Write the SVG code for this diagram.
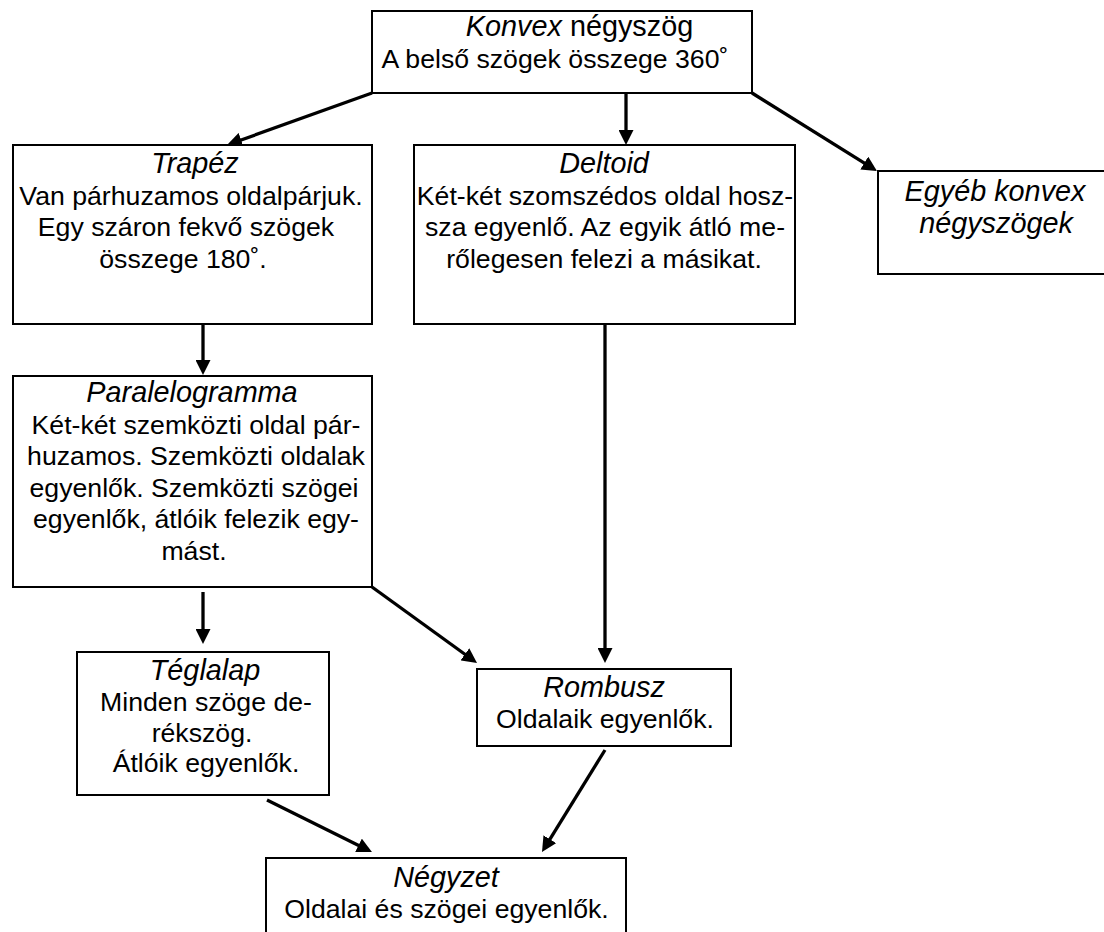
<svg xmlns="http://www.w3.org/2000/svg" width="1104" height="932" viewBox="0 0 1104 932">
<style>
.box{fill:#fff;stroke:#000;stroke-width:2}
.t{font-family:"Liberation Sans",Arial,sans-serif;font-size:26.67px;fill:#000;text-anchor:middle}
.i{font-style:italic;font-size:28.8px}
.c{stroke:#000;stroke-width:3.3;fill:none;marker-end:url(#ah)}
</style>
<defs>
<marker id="ah" viewBox="0 0 15 15" markerWidth="15" markerHeight="15" refX="3" refY="7.5" orient="auto" markerUnits="userSpaceOnUse">
<path d="M0,0 L15,7.5 L0,15 z" fill="#000"/>
</marker>
</defs>
<rect width="1104" height="932" fill="#fff"/>
<g id="connectors">
<line class="c" x1="372" y1="93" x2="238.3" y2="141"/>
<line class="c" x1="626" y1="93" x2="626" y2="133"/>
<line class="c" x1="752" y1="93" x2="866.8" y2="164.6"/>
<line class="c" x1="203" y1="324" x2="203" y2="363"/>
<line class="c" x1="605" y1="324" x2="605" y2="651"/>
<line class="c" x1="203" y1="592" x2="203" y2="632"/>
<line class="c" x1="372" y1="587" x2="467.3" y2="656"/>
<line class="c" x1="267" y1="800" x2="361.2" y2="846.7"/>
<line class="c" x1="605" y1="750" x2="548.3" y2="841.8"/>
</g>
<g id="konvex">
<rect class="box" x="372" y="11" width="380" height="82"/>
<text class="t" x="579.5" y="36" style="font-size:28.8px"><tspan font-style="italic">Konvex</tspan> négyszög</text>
<text class="t" x="555" y="68">A belső szögek összege 360˚</text>
</g>
<g id="trapez">
<rect class="box" x="13" y="145" width="359" height="179"/>
<text class="t i" x="195" y="173">Trapéz</text>
<text class="t" x="191" y="204.5">Van párhuzamos oldalpárjuk.</text>
<text class="t" x="186" y="236">Egy száron fekvő szögek</text>
<text class="t" x="183" y="267.5">összege 180˚.</text>
</g>
<g id="deltoid">
<rect class="box" x="414" y="145" width="381" height="179"/>
<text class="t i" x="604" y="173">Deltoid</text>
<text class="t" x="605" y="204.5">Két-két szomszédos oldal hosz-</text>
<text class="t" x="605" y="236">sza egyenlő. Az egyik átló me-</text>
<text class="t" x="604" y="267.5">rőlegesen felezi a másikat.</text>
</g>
<g id="egyeb">
<rect class="box" x="878" y="171" width="240" height="103"/>
<text class="t i" x="995" y="201">Egyéb konvex</text>
<text class="t i" x="996" y="232.5">négyszögek</text>
</g>
<g id="paralelogramma">
<rect class="box" x="13" y="376" width="359" height="211"/>
<text class="t i" x="192" y="402">Paralelogramma</text>
<text class="t" x="196" y="433.5">Két-két szemközti oldal pár-</text>
<text class="t" x="196" y="465">huzamos. Szemközti oldalak</text>
<text class="t" x="194" y="496.5">egyenlők. Szemközti szögei</text>
<text class="t" x="196" y="528">egyenlők, átlóik felezik egy-</text>
<text class="t" x="194" y="559.5">mást.</text>
</g>
<g id="teglalap">
<rect class="box" x="77" y="652" width="252" height="143"/>
<text class="t i" x="205" y="680">Téglalap</text>
<text class="t" x="206" y="711">Minden szöge de-</text>
<text class="t" x="202" y="741.5">rékszög.</text>
<text class="t" x="206" y="772">Átlóik egyenlők.</text>
</g>
<g id="rombusz">
<rect class="box" x="477" y="669" width="254" height="77"/>
<text class="t i" x="604" y="697">Rombusz</text>
<text class="t" x="605" y="728">Oldalaik egyenlők.</text>
</g>
<g id="negyzet">
<rect class="box" x="266" y="858" width="360" height="90"/>
<text class="t i" x="446" y="887">Négyzet</text>
<text class="t" x="446.5" y="918">Oldalai és szögei egyenlők.</text>
</g>
</svg>
